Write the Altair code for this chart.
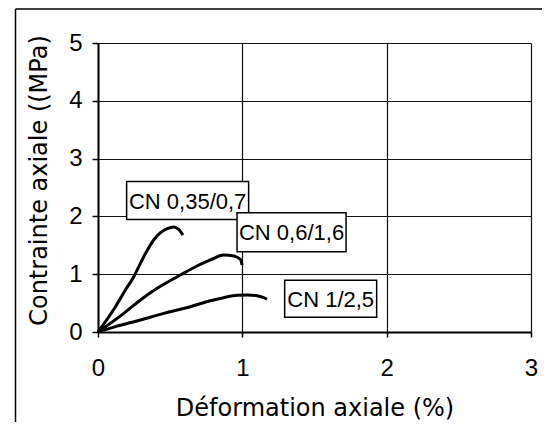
import altair as alt
import pandas as pd

# ---- data -----------------------------------------------------------------
# Déformation axiale (%) / Contrainte axiale (MPa)
c1_x = [0, 0.121, 0.190, 0.248, 0.317, 0.386, 0.433, 0.479, 0.525, 0.559, 0.589]
c1_y = [0, 0.438, 0.727, 0.957, 1.303, 1.592, 1.718, 1.787, 1.817, 1.776, 1.678]
c2_x = [0, 0.179, 0.294, 0.410, 0.571, 0.686, 0.779, 0.871, 0.940, 0.986, 0.998]
c2_y = [0, 0.323, 0.554, 0.756, 0.986, 1.142, 1.246, 1.332, 1.315, 1.258, 1.159]
c3_x = [0, 0.121, 0.294, 0.456, 0.640, 0.779, 0.871, 0.963, 1.033, 1.102, 1.148, 1.171]
c3_y = [0, 0.092, 0.208, 0.323, 0.438, 0.542, 0.594, 0.634, 0.640, 0.628, 0.594, 0.566]
series = ["CN 0,35/0,7", "CN 0,6/1,6", "CN 1/2,5"]

# label anchors (data units)
lab_x = [0.621, 1.341, 1.612]
lab_y = [2.275, 1.727, 0.576]

x_ticks = [0, 1, 2, 3]
y_ticks = [0, 1, 2, 3, 4, 5]

# ---- build tables ------------------------------------------------------------
rows = []
for name, xs, ys in zip(series, [c1_x, c2_x, c3_x], [c1_y, c2_y, c3_y]):
    for i, (a, b) in enumerate(zip(xs, ys)):
        rows.append({"serie": name, "x": a, "y": b, "i": i})
curves = pd.DataFrame(rows)

W, H = 433, 289
xs = alt.Scale(domain=[0, 3], nice=False, zero=False)
ys = alt.Scale(domain=[0, 5], nice=False, zero=False)

one = pd.DataFrame({"k": [0]})

frame_left = alt.Chart(one).mark_rule(color="black", strokeWidth=1.5).encode(
    x=alt.value(-82.5), y=alt.value(-34), y2=alt.value(400))
frame_top = alt.Chart(one).mark_rule(color="black", strokeWidth=1.5).encode(
    x=alt.value(-82.5), x2=alt.value(460), y=alt.value(-34))

lines = alt.Chart(curves).mark_line(
    color="black", strokeWidth=3, interpolate="monotone", clip=False
).encode(
    x=alt.X("x:Q", scale=xs, axis=alt.Axis(
        values=x_ticks, title="Déformation axiale (%)", format="d",
        labelBaseline="alphabetic", labelPadding=38, tickSize=5,
        titleY=83, titleBaseline="alphabetic")),
    y=alt.Y("y:Q", scale=ys, axis=alt.Axis(
        values=y_ticks, title="Contrainte axiale ((MPa)", format="d",
        labelPadding=10, tickSize=6,
        titleAngle=270, titleX=-52, titleY=137, titleAlign="center",
        titleBaseline="alphabetic")),
    detail="serie:N",
    order="i:Q",
)

box_w = [122, 109, 92]
box_h = [38, 39, 37]
layers = [frame_left, frame_top, lines]
for k in range(3):
    d = pd.DataFrame({"x": [lab_x[k]], "y": [lab_y[k]], "t": [series[k]]})
    layers.append(alt.Chart(d).mark_rect(
        width=box_w[k], height=box_h[k], fill="white", stroke="black", strokeWidth=1.5
    ).encode(x=alt.X("x:Q", scale=xs), y=alt.Y("y:Q", scale=ys)))
    layers.append(alt.Chart(d).mark_text(
        font="Liberation Sans", fontSize=22, color="black", align="center", baseline="middle", dy=1
    ).encode(x=alt.X("x:Q", scale=xs), y=alt.Y("y:Q", scale=ys), text="t:N"))

chart = alt.layer(*layers).properties(
    width=W, height=H,
    autosize=alt.AutoSizeParams(type="none"),
    padding={"left": 90, "top": 35, "right": 11, "bottom": 90},
    background="white",
).configure_view(strokeWidth=0).configure_axis(
    domainColor="black", domainWidth=2,
    gridColor="#111111", gridWidth=1.2, gridOpacity=1,
    tickColor="black", tickWidth=1.5,
    labelFont="Liberation Sans", labelFontSize=24, labelColor="black",
    titleFont="DejaVu Sans", titleFontSize=24, titleColor="black", titleFontWeight="normal",
    labelFlush=False,
)

chart.save("out.html", embed_options={"renderer": "svg", "actions": False})
